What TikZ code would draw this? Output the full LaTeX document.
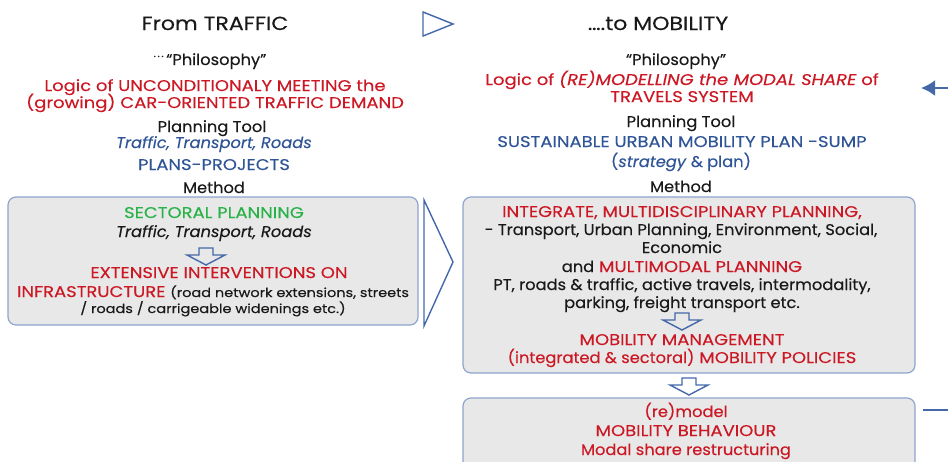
\documentclass[tikz,border=0pt]{standalone}
\usepackage{fontspec}
\setmainfont{Poppins}[FakeStretch=1.16, FakeBold=0.25]
\newfontfamily\lowfont{Poppins}[FakeStretch=1.05, FakeBold=0.25]
\usetikzlibrary{arrows.meta}

\definecolor{ink}{RGB}{25,25,25}
\definecolor{redtxt}{RGB}{204,24,36}
\definecolor{bluetxt}{RGB}{47,85,151}
\definecolor{greentxt}{RGB}{40,178,72}
\definecolor{panelfill}{RGB}{232,232,232}
\definecolor{panelline}{RGB}{143,164,206}
\definecolor{arrowblue}{RGB}{68,104,170}

\begin{document}
\begin{tikzpicture}[x=1pt, y=-1pt, >=Latex,
    txt/.style={anchor=base, inner sep=0pt, text=ink, font=\fontsize{15.5}{18}\selectfont},
    low/.style={txt, font=\fontsize{15.5}{18}\selectfont\lowfont},
    head/.style={txt, font=\fontsize{19}{23}\selectfont},
    panel/.style={draw=panelline, fill=panelfill, rounded corners=8pt, line width=1.2pt, inner sep=0pt},
    outline/.style={draw=arrowblue, line width=1.4pt, line join=miter},
    hollowdown/.pic={\draw[outline] (-7,0) -- (7,0) -- (7,7) -- (19,7) -- (0,17) -- (-19,7) -- (-7,7) -- cycle;}]
    \useasboundingbox (0,0) rectangle (948,461);

    % Nadpisy
    \node[head] (fromT) at (215,30) {From TRAFFIC};
    \node[head] (toM) at (658,30) {\dots.to MOBILITY};
    \draw[outline] (423,12) -- (453,24) -- (423,36) -- cycle;

    % Levy sloupec - od dopravy
    \node[low] (philL) at (210,65) {\raisebox{8pt}{\fontsize{10}{10}\selectfont.\,.\,.}\,“Philosophy”};
    \node[txt, text=redtxt] (logicLa) at (215,91) {Logic of UNCONDITIONALY MEETING the};
    \node[txt, text=redtxt] (logicLb) at (215,108) {(growing) CAR-ORIENTED TRAFFIC DEMAND};
    \node[low] (toolL) at (212,132) {Planning Tool};
    \node[low, text=bluetxt, font=\fontsize{15.5}{18}\selectfont\lowfont\itshape] (tptL) at (214,148) {Traffic, Transport, Roads};
    \node[txt, text=bluetxt] (planL) at (214,170) {PLANS-PROJECTS};
    \node[low] (methL) at (214,193) {Method};

    \node[panel, minimum width=410pt, minimum height=128pt] (boxL) at (213,261) {};
    \node[txt, text=greentxt] (sectL) at (214,218) {SECTORAL PLANNING};
    \node[low, font=\fontsize{15.5}{18}\selectfont\lowfont\itshape] (fieldL) at (214,237) {Traffic, Transport, Roads};
    \pic at (206,248) {hollowdown};
    \node[txt, text=redtxt] (extL) at (219,278) {EXTENSIVE INTERVENTIONS ON};
    \node[txt] (infraL) at (213,297) {\textcolor{redtxt}{INFRASTRUCTURE} {\fontsize{12.5}{15}\selectfont(road network extensions, streets}};
    \node[txt, font=\fontsize{12.5}{15}\selectfont] (roadsL) at (213,313) {/ roads / carrigeable widenings etc.)};

    % Velka sipka mezi sloupci
    \draw[outline] (424,200) -- (453,262) -- (424,326) -- cycle;

    % Pravy sloupec - k mobilite
    \node[low] (philR) at (676,65) {“Philosophy”};
    \node[txt, text=redtxt] (logicRa) at (682,85) {Logic of \textit{(RE)MODELLING the MODAL SHARE} of};
    \node[txt, text=redtxt] (logicRb) at (682,102) {TRAVELS SYSTEM};
    \node[low] (toolR) at (681,127) {Planning Tool};
    \node[txt, text=bluetxt] (sumpR) at (682,147) {SUSTAINABLE URBAN MOBILITY PLAN -SUMP};
    \node[low, text=bluetxt] (stratR) at (681,167) {(\textit{strategy} \& plan)};
    \node[low] (methR) at (681,192) {Method};

    \node[panel, minimum width=452pt, minimum height=176pt] (boxR) at (689,285) {};
    \node[txt, text=redtxt] (intR) at (682,217) {INTEGRATE, MULTIDISCIPLINARY PLANNING,};
    \node[low] (discR) at (681,235) {- Transport, Urban Planning, Environment, Social,};
    \node[low] (econR) at (682,253) {Economic};
    \node[txt] (multiR) at (682,272) {{\lowfont and} \textcolor{redtxt}{MULTIMODAL PLANNING}};
    \node[low] (modesR) at (682,290) {PT, roads \& traffic, active travels, intermodality,};
    \node[low] (parkR) at (682,308) {parking, freight transport etc.};
    \pic at (682,313) {hollowdown};
    \node[txt, text=redtxt] (mmR) at (682,345) {MOBILITY MANAGEMENT};
    \node[txt, text=redtxt] (polR) at (682,363) {{\lowfont(integrated \& sectoral)} MOBILITY POLICIES};

    % Vysledek
    \pic at (689,378) {hollowdown};
    \node[panel, minimum width=452pt, minimum height=100pt] (boxB) at (689,448) {};
    \node[low, text=redtxt] (remB) at (686,417) {(re)model};
    \node[txt, text=redtxt] (behB) at (686,436) {MOBILITY BEHAVIOUR};
    \node[low, text=redtxt] (shareB) at (686,455) {Modal share restructuring};

    % Zpetna vazba vpravo
    \coordinate (backFrom) at (948,88);
    \coordinate (backTo) at (921,88);
    \draw[arrowblue, line width=2.4pt, -{Latex[length=14pt,width=16pt]}] (backFrom) -- (backTo);
    \coordinate (outFrom) at (923,410);
    \coordinate (outTo) at (948,410);
    \draw[arrowblue, line width=1.5pt] (outFrom) -- (outTo);

\end{tikzpicture}
\end{document}
